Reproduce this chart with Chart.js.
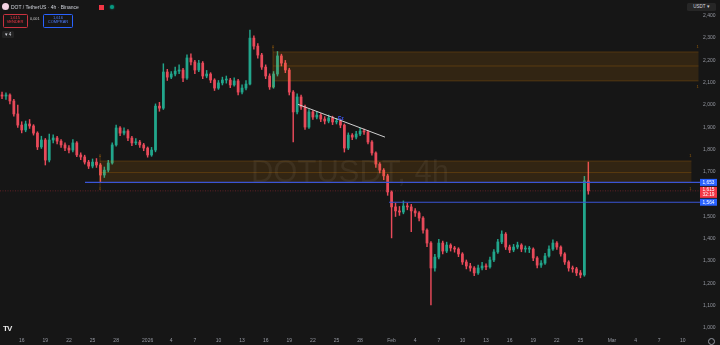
<!DOCTYPE html>
<html>
<head>
<meta charset="utf-8">
<script src="https://cdn.jsdelivr.net/npm/chart.js@4.4.1/dist/chart.umd.min.js"></script>
<style>
  html, body { margin: 0; padding: 0; background: #161616; }
  #wrap { position: relative; width: 720px; height: 345px; overflow: hidden; }
  canvas { display: block; }
  .hdr { position: absolute; font-family: "Liberation Sans", Arial, sans-serif; line-height: 1; white-space: nowrap; }
  .box { position: absolute; border-radius: 1.5px; text-align: center; font-family: "Liberation Sans", Arial, sans-serif; line-height: 1.15; }
</style>
</head>
<body>
<div id="wrap">
  <canvas id="myChart" width="720" height="345"></canvas>

  <div class="hdr" style="left:2px;top:3px;width:7px;height:7px;border-radius:50%;background:#f3d2e2;"></div>
  <div class="hdr" style="left:11px;top:4.5px;font-size:5px;color:#d1d4dc;">DOT / TetherUS · 4h · Binance</div>
  <div class="hdr" style="left:99px;top:4.5px;width:5px;height:5px;background:#f23645;"></div>
  <div class="hdr" style="left:110px;top:5px;width:4px;height:4px;border-radius:50%;background:#089981;box-shadow:0 0 2px #089981;"></div>

  <div class="box" style="left:2.5px;top:13.5px;width:23px;height:11px;border:0.7px solid #c8323f;color:#f23645;font-size:4px;padding-top:1px;">1,615<br>VENDER</div>
  <div class="hdr" style="left:30px;top:17.5px;font-size:3.8px;color:#c9c9c9;">0,001</div>
  <div class="box" style="left:43px;top:13.5px;width:28px;height:11px;border:0.7px solid #2962ff;color:#4d7dff;font-size:4px;padding-top:1px;">1,616<br>COMPRAR</div>
  <div class="box" style="left:2px;top:30.5px;width:12px;height:7px;background:#232323;color:#d1d4dc;font-size:4.5px;line-height:7px;">▾ 4</div>

  <div class="box" style="left:687px;top:3px;width:29px;height:8px;background:#262626;color:#d1d4dc;font-size:4.5px;line-height:8px;">USDT ▾</div>
  <div class="hdr" style="left:3px;top:325px;font-size:8px;font-weight:bold;color:#e8e8e8;letter-spacing:-1px;">TV</div>
  <div class="hdr" style="left:708px;top:338px;width:5px;height:5px;border-radius:50%;border:0.8px solid #9598a1;"></div>
</div>

<script>
// 12h candles, day 0 = Dec 13 00:00
const candleStartDay = 0;
const candleStepDays = 0.5;
const firstOpen = 2050;

const closePrices = [
  2045, 2040, 2045, 2018, 1960, 1910, 1888, 1915, 1906, 1874,
  1812, 1843, 1753, 1843, 1852, 1838, 1821, 1807, 1798, 1830,
  1776, 1767, 1744, 1726, 1744, 1731, 1686, 1708, 1740, 1821,
  1897, 1874, 1883, 1852, 1830, 1834, 1821, 1807, 1776, 1798,
  1995, 1986, 2148, 2125, 2139, 2152, 2157, 2121, 2211, 2193,
  2157, 2188, 2130, 2139, 2112, 2076, 2099, 2112, 2112, 2090,
  2108, 2058, 2076, 2094, 2300, 2264, 2224, 2170, 2130, 2081,
  2139, 2220, 2188, 2157, 2058, 1969, 2036, 1991, 1901, 1969,
  1946, 1955, 1937, 1928, 1942, 1924, 1928, 1910, 1807, 1865,
  1856, 1870, 1883, 1879, 1834, 1785, 1735, 1708, 1682, 1610,
  1543, 1525, 1520, 1547, 1543, 1525, 1516, 1493, 1439, 1381,
  1269, 1318, 1381, 1345, 1372, 1359, 1354, 1332, 1296, 1278,
  1269, 1247, 1269, 1278, 1274, 1305, 1341, 1386, 1421, 1363,
  1350, 1363, 1372, 1354, 1354, 1354, 1314, 1282, 1291, 1323,
  1354, 1381, 1363, 1332, 1296, 1269, 1265, 1247, 1238, 1660,
  1615
];

const highPrices = [
  2062, 2058, 2055, 2050, 2025, 2000, 1925, 1928, 1935, 1912,
  1880, 1860, 1850, 1870, 1866, 1860, 1845, 1830, 1818, 1845,
  1836, 1785, 1775, 1752, 1758, 1760, 1738, 1722, 1752, 1830,
  1910, 1903, 1898, 1890, 1860, 1850, 1842, 1828, 1812, 1810,
  2005, 2012, 2185, 2160, 2150, 2170, 2180, 2165, 2225, 2230,
  2200, 2200, 2195, 2155, 2145, 2118, 2110, 2125, 2130, 2120,
  2122, 2115, 2090, 2110, 2336, 2310, 2275, 2232, 2180, 2140,
  2150, 2240, 2228, 2200, 2165, 2065, 2050, 2045, 2000, 1980,
  1975, 1970, 1962, 1948, 1955, 1950, 1940, 1935, 1915, 1875,
  1872, 1882, 1895, 1892, 1885, 1840, 1790, 1742, 1715, 1690,
  1615, 1560, 1545, 1570, 1560, 1555, 1535, 1522, 1500, 1445,
  1388, 1330, 1398, 1390, 1385, 1378, 1366, 1360, 1338, 1305,
  1290, 1275, 1282, 1295, 1288, 1318, 1352, 1398, 1436, 1428,
  1372, 1375, 1385, 1378, 1368, 1366, 1360, 1320, 1302, 1335,
  1368, 1395, 1388, 1368, 1338, 1302, 1278, 1272, 1258, 1680,
  1744
];

const lowPrices = [
  2030, 2028, 2025, 2005, 1950, 1900, 1875, 1880, 1895, 1865,
  1800, 1805, 1731, 1745, 1830, 1825, 1810, 1795, 1785, 1790,
  1768, 1755, 1735, 1715, 1718, 1720, 1655, 1675, 1700, 1735,
  1815, 1862, 1866, 1840, 1818, 1822, 1810, 1795, 1766, 1770,
  1790, 1972, 1980, 2110, 2118, 2130, 2140, 2105, 2115, 2180,
  2140, 2150, 2118, 2122, 2100, 2065, 2070, 2090, 2098, 2078,
  2085, 2045, 2050, 2068, 2090, 2250, 2210, 2160, 2118, 2070,
  2075, 2130, 2175, 2145, 2045, 1834, 1960, 1980, 1890, 1895,
  1935, 1938, 1925, 1915, 1920, 1912, 1915, 1898, 1789, 1800,
  1845, 1848, 1862, 1868, 1825, 1775, 1720, 1695, 1665, 1595,
  1404, 1500, 1505, 1512, 1530, 1432, 1500, 1480, 1425, 1365,
  1103, 1255, 1310, 1332, 1338, 1345, 1340, 1320, 1285, 1265,
  1255, 1235, 1240, 1260, 1262, 1268, 1298, 1335, 1378, 1352,
  1338, 1342, 1355, 1342, 1340, 1338, 1302, 1270, 1272, 1285,
  1318, 1348, 1352, 1322, 1285, 1255, 1250, 1235, 1225, 1232,
  1600
];

const timeTickDays = [3, 6, 9, 12, 15, 19, 22, 25, 28, 31, 34, 37, 40, 43, 46, 50, 53, 56, 59, 62, 65, 68, 71, 74, 78, 81, 84, 87];
const timeTickLabels = ['16', '19', '22', '25', '28', '2026', '4', '7', '10', '13', '16', '19', '22', '25', '28', 'Feb', '4', '7', '10', '13', '16', '19', '22', '25', 'Mar', '4', '7', '10'];
const priceTicks = [1000, 1100, 1200, 1300, 1400, 1500, 1600, 1700, 1800, 1900, 2000, 2100, 2200, 2300, 2400];

// drawn objects
const zoneStartDays = [34.93, 12.95];
const zoneEndDays = [89.0, 88.1];
const zoneTopPrices = [2238, 1749];
const zoneMidPrices = [2175, 1697];
const zoneBottomPrices = [2108, 1652];

const levelPrices = [1653, 1564];
const levelStartDays = [11.04, 49.67];

const trendDays = [38.1, 49.16];
const trendPrices = [2003, 1856];

const currentPrice = 1615;
const countdownText = '32:19';
const markerDay = 43.55;
const markerPrice = 1940;

const watermarkText = 'DOTUSDT, 4h';

const FONT = '"Liberation Sans", Arial, sans-serif';
const UP = '#22a68c';
const DOWN = '#e84a5a';

const openPrices = closePrices.map((c, i) => i === 0 ? firstOpen : closePrices[i - 1]);
const candleDays = closePrices.map((c, i) => candleStartDay + i * candleStepDays);
const candleColors = closePrices.map((c, i) => c >= openPrices[i] ? UP : DOWN);

const wickData = candleDays.map((d, i) => ({ x: d, y: [lowPrices[i], highPrices[i]] }));
const bodyData = candleDays.map((d, i) => ({ x: d, y: [openPrices[i], closePrices[i]] }));

function fmt(v) { return v.toLocaleString('en-US'); }

function tag(ctx, x, y, w, h, bg, lines, color) {
  ctx.fillStyle = bg;
  ctx.fillRect(x, y, w, h);
  ctx.fillStyle = color;
  ctx.font = '4.8px ' + FONT;
  ctx.textAlign = 'center';
  ctx.textBaseline = 'middle';
  const lh = h / lines.length;
  lines.forEach((t, k) => ctx.fillText(t, x + w / 2, y + lh * (k + 0.5)));
}

const overlayPlugin = {
  id: 'overlays',
  beforeDatasetsDraw(chart) {
    const { ctx, chartArea } = chart;
    const ys = chart.scales.y;
    ctx.save();
    ctx.fillStyle = 'rgba(150,150,150,0.11)';
    ctx.font = '31px ' + FONT;
    ctx.textAlign = 'center';
    ctx.textBaseline = 'middle';
    ctx.fillText(watermarkText, 350, 173);

    // current price line
    const yc = ys.getPixelForValue(currentPrice);
    ctx.strokeStyle = 'rgba(242,54,69,0.35)';
    ctx.lineWidth = 1;
    ctx.setLineDash([1, 1.5]);
    ctx.beginPath();
    ctx.moveTo(chartArea.left, yc);
    ctx.lineTo(chartArea.right, yc);
    ctx.stroke();
    ctx.restore();
  },
  afterDatasetsDraw(chart) {
    const { ctx, chartArea } = chart;
    const xs = chart.scales.x, ys = chart.scales.y;
    ctx.save();

    // fib-like zones
    zoneStartDays.forEach((d, k) => {
      const x0 = xs.getPixelForValue(d);
      const x1 = Math.min(xs.getPixelForValue(zoneEndDays[k]), chartArea.right);
      const yt = ys.getPixelForValue(zoneTopPrices[k]);
      const ym = ys.getPixelForValue(zoneMidPrices[k]);
      const yb = ys.getPixelForValue(zoneBottomPrices[k]);
      ctx.fillStyle = 'rgba(255,152,0,0.12)';
      ctx.fillRect(x0, yt, x1 - x0, yb - yt);
      ctx.strokeStyle = 'rgba(255,152,0,0.25)';
      ctx.lineWidth = 0.8;
      ctx.beginPath();
      ctx.moveTo(x0, yt); ctx.lineTo(x1, yt);
      ctx.moveTo(x0, ym); ctx.lineTo(x1, ym);
      ctx.moveTo(x0, yb); ctx.lineTo(x1, yb);
      ctx.stroke();
      ctx.strokeStyle = 'rgba(255,152,0,0.3)';
      ctx.beginPath();
      ctx.moveTo(x0, yt - 5); ctx.lineTo(x0, yb + 5);
      ctx.stroke();
      ctx.fillStyle = 'rgba(255,152,0,0.55)';
      ctx.font = '4px ' + FONT;
      ctx.textAlign = 'center';
      ctx.textBaseline = 'middle';
      ctx.fillText('0', x0, yt - 5);
      ctx.fillText('0', x0, yb + 6);
      ctx.fillText('1', x1 - 1, yt - 5);
      ctx.fillText('1', x1 - 1, yb + 6);
    });

    // horizontal rays
    levelPrices.forEach((p, k) => {
      const y = ys.getPixelForValue(p);
      ctx.strokeStyle = '#3a55d6';
      ctx.lineWidth = 1.2;
      ctx.beginPath();
      ctx.moveTo(xs.getPixelForValue(levelStartDays[k]), y);
      ctx.lineTo(chartArea.right, y);
      ctx.stroke();
    });

    // trend line
    ctx.strokeStyle = '#d0d0d0';
    ctx.lineWidth = 1;
    ctx.beginPath();
    ctx.moveTo(xs.getPixelForValue(trendDays[0]), ys.getPixelForValue(trendPrices[0]));
    ctx.lineTo(xs.getPixelForValue(trendDays[1]), ys.getPixelForValue(trendPrices[1]));
    ctx.stroke();

    // small marker
    ctx.fillStyle = '#3d5afe';
    ctx.font = 'bold 5px ' + FONT;
    ctx.textAlign = 'center';
    ctx.textBaseline = 'middle';
    ctx.fillText('Ez', xs.getPixelForValue(markerDay), ys.getPixelForValue(markerPrice));
    ctx.restore();
  },
  afterDraw(chart) {
    const { ctx, chartArea } = chart;
    const ys = chart.scales.y;
    ctx.save();
    const xa = chartArea.right;
    const y1 = ys.getPixelForValue(levelPrices[0]);
    const y2 = ys.getPixelForValue(levelPrices[1]);
    const yc = ys.getPixelForValue(currentPrice);
    tag(ctx, xa, y1 - 3.5, 17, 7, '#2962ff', [fmt(levelPrices[0])], '#ffffff');
    tag(ctx, xa, yc - 4, 17, 11, '#f23645', [fmt(currentPrice), countdownText], '#ffffff');
    tag(ctx, xa, y2 - 3.5, 17, 7, '#2962ff', [fmt(levelPrices[1])], '#ffffff');
    ctx.restore();
  }
};

const ctx = document.getElementById('myChart').getContext('2d');
new Chart(ctx, {
  type: 'bar',
  data: {
    datasets: [
      { label: 'wick', data: wickData, backgroundColor: candleColors, barThickness: 0.8, grouped: false, order: 2 },
      { label: 'body', data: bodyData, backgroundColor: candleColors, barThickness: 2.1, minBarLength: 1, grouped: false, order: 1 }
    ]
  },
  options: {
    responsive: false,
    animation: false,
    events: [],
    layout: { padding: 0 },
    plugins: { legend: { display: false }, tooltip: { enabled: false } },
    scales: {
      x: {
        type: 'linear',
        min: 0.241,
        max: 89.19,
        offset: false,
        grid: { display: false, drawTicks: false },
        border: { display: false },
        afterBuildTicks(s) { s.ticks = timeTickDays.map(v => ({ value: v })); },
        afterFit(s) { s.height = 12; s.paddingLeft = 0; s.paddingRight = 0; },
        ticks: {
          autoSkip: false, maxRotation: 0, padding: 5,
          color: '#9598a1', font: { size: 5, family: FONT },
          callback: (v, i) => timeTickLabels[i]
        }
      },
      y: {
        position: 'right',
        min: 977.6,
        max: 2470.9,
        grid: { display: false, drawTicks: false },
        border: { display: false },
        afterBuildTicks(s) { s.ticks = priceTicks.map(v => ({ value: v })); },
        afterFit(s) { s.width = 20; s.paddingTop = 0; s.paddingBottom = 0; },
        ticks: {
          padding: 3,
          color: '#9598a1', font: { size: 5, family: FONT },
          callback: v => fmt(v)
        }
      }
    }
  },
  plugins: [overlayPlugin]
});
</script>
</body>
</html>
